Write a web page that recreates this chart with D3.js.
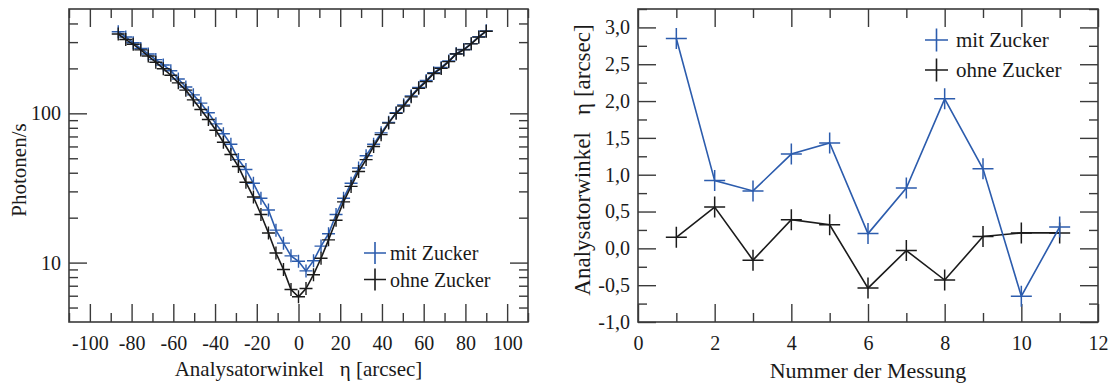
<!DOCTYPE html>
<html>
<head>
<meta charset="utf-8">
<script src="https://cdn.jsdelivr.net/npm/d3@7"></script>
<style>
  html, body { margin: 0; padding: 0; background: #fff; }
  svg text { font-family: "Liberation Serif", "Times New Roman", serif; fill: #1a1a1a; }
</style>
</head>
<body>
<svg id="chart" width="1116" height="385"></svg>
<script>
// ---- Rocking-curve data (left panel) ----
const angles = [-86.4, -82.8, -79.2, -75.6, -72, -68.4, -64.8, -61.2, -57.6, -54,
  -50.4, -46.8, -43.2, -39.6, -36, -32.4, -28.8, -25.2, -21.6, -18,
  -14.4, -10.8, -7.2, -3.6, 0, 3.6, 7.2, 10.8, 14.4, 18,
  21.6, 25.2, 28.8, 32.4, 36, 39.6, 43.2, 46.8, 50.4, 54,
  57.6, 61.2, 64.8, 68.4, 72, 75.6, 79.2, 82.8, 86.4, 90];
const rateMit = [352, 325, 297, 272, 250, 229, 211, 193, 170, 150,
  133, 117, 101, 85, 73, 62, 49, 42, 34, 27,
  22.5, 16.5, 13.5, 11.1, 10.2, 8.8, 10.3, 12.9, 15.6, 21,
  27, 34, 43, 52, 62, 74, 87, 101, 114, 131,
  149, 166, 187, 203, 224, 251, 268, 293, 326, 357];
const rateOhne = [340, 312, 290, 266, 242, 220, 199, 180, 160, 143,
  123, 106, 91, 77, 64, 53, 44, 34.5, 27.5, 21,
  15.8, 11.6, 9.0, 6.6, 5.9, 6.7, 8.3, 10.7, 14.2, 19.2,
  25.5, 32.4, 40.8, 49, 60, 72, 86, 100, 112, 129,
  147, 163, 185, 200, 222, 250, 266, 292, 324, 355];
const angleTicksMajor = [-100, -80, -60, -40, -20, 0, 20, 40, 60, 80, 100];
const angleTicksMinor = [-110, -90, -70, -50, -30, -10, 10, 30, 50, 70, 90, 110];
const rateTicksMajor = [10, 100];
const rateTicksMinor = [5, 6, 7, 8, 9, 20, 30, 40, 50, 60, 70, 80, 90, 200, 300, 400];

// ---- Fitted peak position per measurement (right panel) ----
const messung = [1, 2, 3, 4, 5, 6, 7, 8, 9, 10, 11];
const etaMit = [2.85, 0.92, 0.78, 1.28, 1.43, 0.20, 0.82, 2.03, 1.08, -0.65, 0.29];
const etaOhne = [0.15, 0.56, -0.16, 0.39, 0.32, -0.54, -0.03, -0.43, 0.16, 0.21, 0.21];
const nrTicksMajor = [0, 2, 4, 6, 8, 10, 12];
const nrTicksMinor = [1, 3, 5, 7, 9, 11];
const etaTicksMajor = [-1.0, -0.5, 0, 0.5, 1.0, 1.5, 2.0, 2.5, 3.0];
const etaTicksMinor = [-0.75, -0.25, 0.25, 0.75, 1.25, 1.75, 2.25, 2.75, 3.25];

const seriesNames = ["mit Zucker", "ohne Zucker"];
const BLUE = "#2c5cad";
const BLACK = "#1b1b1b";
const AXIS = "#3a3a3a";
const MAJOR = 18, MINOR = 9;

const svg = d3.select("#chart");

function plus(x, y, s) {
  return `M${x - s},${y}H${x + s}M${x},${y - s}V${y + s}`;
}

// draws the four inward-ticked sides of a framed plot
function frame(g, x, y, xMaj, xMin, yMaj, yMin, xFmt, yFmt) {
  const [x0, x1] = x.range();
  const [y0, y1] = y.range();
  const axes = [
    [d3.axisBottom(x), y0, true, xMaj, xMin, xFmt, "x"],
    [d3.axisTop(x), y1, false, xMaj, xMin, xFmt, "x"],
    [d3.axisLeft(y), x0, true, yMaj, yMin, yFmt, "y"],
    [d3.axisRight(y), x1, false, yMaj, yMin, yFmt, "y"]
  ];
  axes.forEach(([ax, pos, labelled, maj, min, fmt, dir]) => {
    const tr = dir === "x" ? `translate(0,${pos})` : `translate(${pos},0)`;
    const gMin = g.append("g").attr("transform", tr)
      .call(ax.tickValues(min).tickSize(-MINOR).tickFormat(""));
    gMin.select(".domain").remove();
    gMin.selectAll("line").attr("stroke", AXIS).attr("stroke-width", 1.4);
    const gMaj = g.append("g").attr("transform", tr)
      .call(ax.tickValues(maj).tickSize(-MAJOR).tickPadding(dir === "x" ? 14 : 8)
        .tickFormat(labelled ? fmt : ""));
    gMaj.select(".domain").remove();
    gMaj.selectAll("line").attr("stroke", AXIS).attr("stroke-width", 1.4);
    gMaj.selectAll("text").attr("font-size", 20).attr("fill", "#1a1a1a")
      .attr("font-family", "Liberation Serif");
  });
  g.append("rect").attr("x", x0).attr("y", y1).attr("width", x1 - x0).attr("height", y0 - y1)
    .attr("fill", "none").attr("stroke", AXIS).attr("stroke-width", 1.6);
}

// ---------------- left panel ----------------
{
  const x = d3.scaleLinear().domain([-110, 110]).range([69, 528]);
  const y = d3.scaleLog().domain([4, 500]).range([322, 9]);
  const g = svg.append("g");
  frame(g, x, y, angleTicksMajor, angleTicksMinor, rateTicksMajor, rateTicksMinor,
    d => String(d).replace("\u2212", "-"), d => String(d));

  const line = d3.line().x((d, i) => x(angles[i])).y(d => y(d));
  [[rateMit, BLUE], [rateOhne, BLACK]].forEach(([vals, col]) => {
    g.append("path").attr("d", line(vals)).attr("fill", "none")
      .attr("stroke", col).attr("stroke-width", 1.6);
    g.append("path").attr("d", vals.map((v, i) => plus(x(angles[i]), y(v), 6.5)).join(""))
      .attr("fill", "none").attr("stroke", col).attr("stroke-width", 1.4);
  });

  // legend
  [BLUE, BLACK].forEach((col, i) => {
    const ly = 253 + i * 26.5;
    g.append("path").attr("d", plus(375, ly, 11)).attr("stroke", col).attr("stroke-width", 1.6);
    g.append("text").attr("x", 390).attr("y", ly).attr("dy", "0.35em")
      .attr("font-size", 20).text(seriesNames[i]);
  });

  g.append("text").attr("x", (69 + 528) / 2).attr("y", 376).attr("text-anchor", "middle")
    .attr("font-size", 21).attr("xml:space", "preserve").text("Analysatorwinkel   \u03b7 [arcsec]");
  g.append("text").attr("transform", "translate(26,170) rotate(-90)").attr("text-anchor", "middle")
    .attr("font-size", 21).text("Photonen/s");
}

// ---------------- right panel ----------------
{
  const x = d3.scaleLinear().domain([0, 12]).range([638, 1098]);
  const y = d3.scaleLinear().domain([-1, 3.25]).range([322, 9]);
  const g = svg.append("g");
  const fmtEta = d => d3.format(".1f")(d).replace(".", ",").replace("\u2212", "-");
  frame(g, x, y, nrTicksMajor, nrTicksMinor, etaTicksMajor, etaTicksMinor, d => String(d), fmtEta);

  const line = d3.line().x((d, i) => x(messung[i])).y(d => y(d));
  [[etaOhne, BLACK], [etaMit, BLUE]].forEach(([vals, col]) => {
    g.append("path").attr("d", line(vals)).attr("fill", "none")
      .attr("stroke", col).attr("stroke-width", 1.6);
    g.append("path").attr("d", vals.map((v, i) => plus(x(messung[i]), y(v), 10.5)).join(""))
      .attr("fill", "none").attr("stroke", col).attr("stroke-width", 1.5);
  });

  [BLUE, BLACK].forEach((col, i) => {
    const ly = 40 + i * 30;
    g.append("path").attr("d", plus(936.5, ly, 11.5)).attr("stroke", col).attr("stroke-width", 1.6);
    g.append("text").attr("x", 956).attr("y", ly).attr("dy", "0.35em")
      .attr("font-size", 21).text(seriesNames[i]);
  });

  g.append("text").attr("x", (638 + 1098) / 2).attr("y", 378).attr("text-anchor", "middle")
    .attr("font-size", 22).text("Nummer der Messung");
  g.append("text").attr("transform", "translate(590,160) rotate(-90)").attr("text-anchor", "middle")
    .attr("font-size", 23).attr("xml:space", "preserve").text("Analysatorwinkel   \u03b7 [arcsec]");
}
</script>
</body>
</html>
